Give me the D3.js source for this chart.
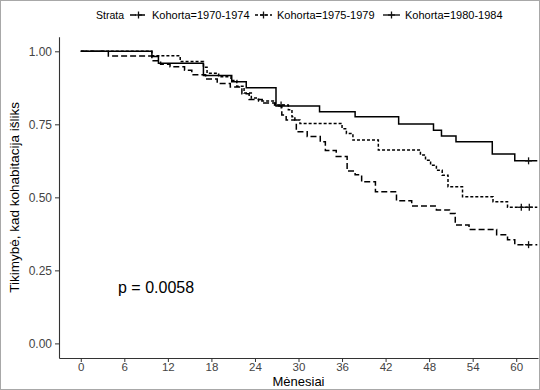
<!DOCTYPE html>
<html>
<head>
<meta charset="utf-8">
<script src="https://cdn.jsdelivr.net/npm/d3@7"></script>
<style>
  body { margin: 0; background: #fff; }
  svg text { font-family: "Liberation Sans", Arial, sans-serif; }
</style>
</head>
<body>
<script>
// strata names
var strata = ["Kohorta=1970-1974", "Kohorta=1975-1979", "Kohorta=1980-1984"];

// Kaplan-Meier steps (months, survival)
var time7074 = [0, 3.8, 9.8, 11, 12.3, 14.3, 15.3, 17.2, 18.8, 20.6, 22.2, 23.2, 25, 26.8, 27.7, 28.3, 29.7, 31.2, 33, 33.7, 35.2, 36.7, 37.8, 38.7, 40.6, 43.5, 45.6, 49, 50.8, 51.6, 53.5, 57.3, 58.8, 59.8];
var surv7074 = [1, 0.984, 0.968, 0.956, 0.947, 0.935, 0.92, 0.905, 0.89, 0.878, 0.855, 0.835, 0.823, 0.813, 0.782, 0.765, 0.725, 0.708, 0.69, 0.66, 0.64, 0.59, 0.577, 0.553, 0.519, 0.488, 0.47, 0.457, 0.445, 0.405, 0.39, 0.372, 0.355, 0.338];
var cens7074 = [61.7];

var time7579 = [0, 9.8, 13.7, 16.9, 17.4, 19, 20.7, 21.5, 22.5, 23.5, 24.5, 26.7, 28.6, 29.1, 29.5, 30.2, 36, 36.6, 37.5, 41, 46.8, 47.5, 48.2, 49, 49.8, 50.6, 52.6, 56.8, 58.8];
var surv7579 = [1, 0.985, 0.965, 0.945, 0.925, 0.913, 0.9, 0.88, 0.857, 0.84, 0.83, 0.816, 0.8, 0.776, 0.765, 0.753, 0.735, 0.719, 0.696, 0.662, 0.645, 0.627, 0.61, 0.593, 0.576, 0.536, 0.502, 0.485, 0.466];
var cens7579 = [27.6, 60.7, 61.8];

var time8084 = [0, 9.8, 10.7, 16.9, 20.8, 22.8, 26.9, 32.9, 37.8, 43.8, 48.6, 49.7, 51.7, 56.7, 59.8];
var surv8084 = [1, 0.982, 0.959, 0.917, 0.896, 0.875, 0.813, 0.793, 0.776, 0.751, 0.73, 0.71, 0.69, 0.648, 0.625];
var cens8084 = [61.7];

var lastTime = 62.9;

var xTicks = [0, 6, 12, 18, 24, 30, 36, 42, 48, 54, 60];
var yTicks = [0, 0.25, 0.5, 0.75, 1];
var pLabel = "p = 0.0058";

var series = [
  {name: strata[0], t: time7074, s: surv7074, c: cens7074, dash: "6,3"},
  {name: strata[1], t: time7579, s: surv7579, c: cens7579, dash: "3,2"},
  {name: strata[2], t: time8084, s: surv8084, c: cens8084, dash: null}
];

var svg = d3.select("body").append("svg")
  .attr("width", 540)
  .attr("height", 390);

// outer frame
svg.append("rect")
  .attr("x", 0.5).attr("y", 0.5)
  .attr("width", 539).attr("height", 389)
  .attr("fill", "#fff")
  .attr("stroke", "#a8a8a8");

var x = d3.scaleLinear().domain([-3, 63]).range([59, 538]);
var y = d3.scaleLinear().domain([-0.05, 1.05]).range([358, 36.7]);

// axes
var xAxis = svg.append("g")
  .attr("transform", "translate(0,358)")
  .call(d3.axisBottom(x).tickValues(xTicks).tickSize(4).tickSizeOuter(0).tickPadding(1));
var yAxis = svg.append("g")
  .attr("transform", "translate(59,0)")
  .call(d3.axisLeft(y).tickValues(yTicks).tickFormat(d3.format(".2f")).tickSize(4).tickSizeOuter(0).tickPadding(3));

[xAxis, yAxis].forEach(function(g) {
  g.select(".domain").attr("stroke", "#333").attr("stroke-width", 1.1);
  g.selectAll(".tick line").attr("stroke", "#333");
  g.selectAll(".tick text")
    .attr("fill", "#444")
    .style("font-size", "11.5px")
    .style("font-family", "'Liberation Sans', Arial, sans-serif");
});
yAxis.selectAll(".tick text").style("font-size", "12px");

// curves
var line = d3.line()
  .x(function(d) { return x(d[0]); })
  .y(function(d) { return y(d[1]); })
  .curve(d3.curveStepAfter);

function survAt(sr, t) {
  var v = sr.s[0];
  for (var i = 0; i < sr.t.length; i++) {
    if (sr.t[i] <= t) v = sr.s[i];
  }
  return v;
}

function plusMark(g, cx, cy, r) {
  g.append("line").attr("x1", cx - r).attr("x2", cx + r).attr("y1", cy).attr("y2", cy)
    .attr("stroke", "#111").attr("stroke-width", 1.3);
  g.append("line").attr("x1", cx).attr("x2", cx).attr("y1", cy - r).attr("y2", cy + r)
    .attr("stroke", "#111").attr("stroke-width", 1.3);
}

var plot = svg.append("g");
series.forEach(function(sr) {
  var pts = sr.t.map(function(t, i) { return [t, sr.s[i]]; });
  pts.push([lastTime, sr.s[sr.s.length - 1]]);
  plot.append("path")
    .datum(pts)
    .attr("d", line)
    .attr("fill", "none")
    .attr("stroke", "#000")
    .attr("stroke-width", 1.5)
    .attr("stroke-dasharray", sr.dash);
  sr.c.forEach(function(ct) {
    plusMark(plot, x(ct), y(survAt(sr, ct)), 3.5);
  });
});

// p value
svg.append("text")
  .attr("x", 118).attr("y", y(0.19))
  .attr("dy", "0.35em")
  .style("font-size", "16px")
  .attr("fill", "#000")
  .text(pLabel);

// axis titles
svg.append("text")
  .attr("x", (59 + 538) / 2).attr("y", 385.5)
  .style("font-size", "13px")
  .attr("text-anchor", "middle")
  .text("Mėnesiai");

svg.append("text")
  .attr("transform", "translate(14," + ((36.7 + 358) / 2) + ") rotate(-90)")
  .attr("text-anchor", "middle")
  .attr("dy", "0.35em")
  .style("font-size", "13.5px")
  .text("Tikimybė, kad kohabitacija išliks");

// legend
var legend = svg.append("g").attr("transform", "translate(0,15)");
legend.append("text")
  .attr("x", 96).attr("dy", "0.35em")
  .style("font-size", "10.5px")
  .text("Strata");
var keyX = [130, 255, 383];
series.forEach(function(sr, i) {
  legend.append("line")
    .attr("x1", keyX[i]).attr("x2", keyX[i] + 17)
    .attr("y1", 0).attr("y2", 0)
    .attr("stroke", "#000").attr("stroke-width", 1.3)
    .attr("stroke-dasharray", sr.dash);
  plusMark(legend, keyX[i] + 8.5, 0, 3.5);
  legend.append("text")
    .attr("x", keyX[i] + 22).attr("dy", "0.35em")
    .style("font-size", "11px")
    .text(sr.name);
});
</script>
</body>
</html>
